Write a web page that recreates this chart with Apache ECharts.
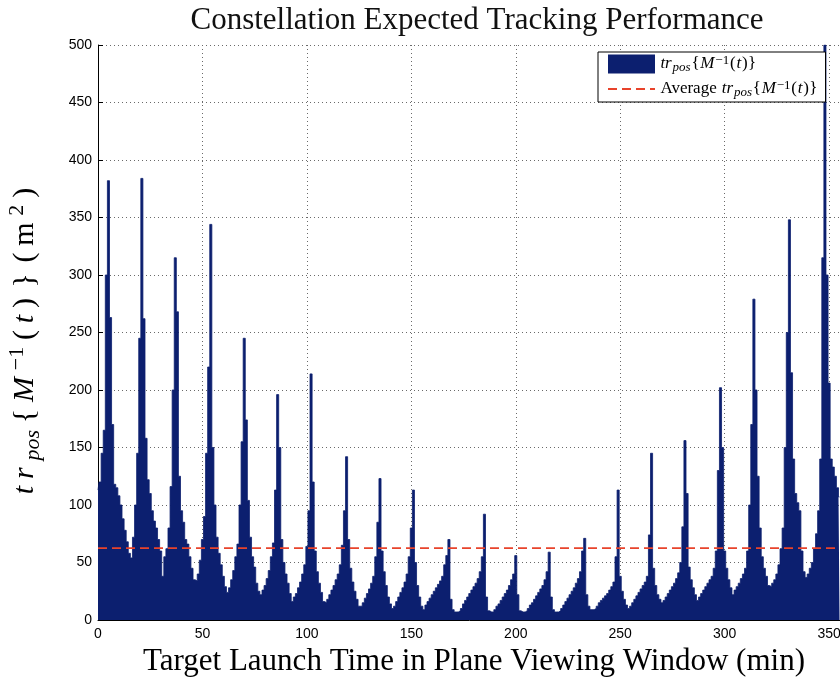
<!DOCTYPE html>
<html>
<head>
<meta charset="utf-8">
<title>Constellation Expected Tracking Performance</title>
<script src="https://cdn.jsdelivr.net/npm/echarts@6/dist/echarts.min.js"></script>
<style>
  html, body { margin: 0; padding: 0; background: #ffffff; }
  #chart { width: 840px; height: 677px; }
</style>
</head>
<body>
<div id="chart"></div>
<script>
// Trace of the position covariance, one sample per minute of launch time (0 .. 355 min)
const trPos = [
  113, 120, 145, 165, 300, 382, 263, 170, 118, 115, 108, 100, 88, 78, 68, 58, 54,
  72, 100, 145, 245, 384, 262, 158, 122, 110, 95, 86, 80, 70, 60, 38,
  55, 62, 80, 116, 200, 315, 268, 125, 95, 85, 70, 66, 55, 45, 35,
  34, 40, 52, 70, 90, 145, 220, 344, 150, 100, 72, 58, 48, 38, 29, 24,
  28, 35, 43, 55, 66, 100, 155, 245, 174, 104, 72, 55, 46, 32, 25, 22,
  26, 30, 36, 43, 55, 67, 113, 196, 150, 70, 50, 40, 32, 23, 16,
  20, 23, 28, 33, 40, 48, 64, 95, 214, 120, 60, 42, 32, 24, 16,
  15, 18, 22, 26, 30, 35, 40, 48, 65, 95, 142, 70, 45, 33, 25, 18, 12,
  12, 15, 19, 23, 27, 32, 38, 55, 85, 123, 60, 42, 30, 20, 14, 10,
  12, 16, 20, 24, 28, 33, 40, 55, 80, 113, 50, 30, 20, 12, 9,
  13, 16, 19, 22, 25, 28, 31, 34, 38, 48, 56, 70, 18, 9, 7, 7, 8,
  10, 14, 17, 20, 23, 26, 29, 32, 36, 42, 55, 92, 20, 8, 7, 7,
  9, 12, 14, 17, 20, 23, 26, 30, 35, 40, 56, 22, 8, 7, 7, 8,
  10, 13, 15, 18, 21, 24, 27, 30, 35, 42, 59, 20, 9, 7, 7, 8,
  10, 13, 16, 19, 22, 25, 28, 32, 36, 42, 60, 71, 22, 12, 9, 9, 10,
  12, 15, 17, 19, 21, 23, 26, 29, 33, 55, 113, 38, 25, 18, 13, 10,
  12, 15, 18, 21, 24, 27, 30, 33, 38, 74, 145, 45, 30, 22, 18, 15,
  17, 20, 23, 26, 29, 32, 36, 41, 50, 81, 156, 110, 46, 35, 28, 22, 17,
  20, 23, 26, 29, 32, 35, 38, 45, 60, 130, 202, 150, 60, 45, 35, 28, 22,
  26, 29, 32, 36, 40, 45, 60, 100, 170, 279, 200, 125, 80, 55, 45, 38, 30, 29,
  32, 35, 40, 48, 62, 80, 150, 250, 348, 215, 140, 110, 102, 95, 60, 42, 37,
  40, 45, 50, 62, 75, 95, 140, 315, 500, 300, 206, 140, 133, 125, 115, 107
];
const startMinute = 0;      // launch time of the first sample (min)
const stepMinutes = 1;      // sampling step (min)
const averageTrPos = [62.5];          // mean of the trace over the window
const averageSpan = [0, 353];         // extent of the average line (min)
const xTicks = [0, 50, 100, 150, 200, 250, 300, 350];
const yTicks = [0, 50, 100, 150, 200, 250, 300, 350, 400, 450, 500];

const SERIF = '"Liberation Serif", "DejaVu Serif", serif';
const SANS = '"Liberation Sans", Arial, Helvetica, sans-serif';
const NAVY = '#0c1f6f';
const AVG_RED = '#e8432b';

const tracePoints = trPos.map((v, i) => [startMinute + i * stepMinutes, v]);
const averagePoints = averageSpan.map(x => [x, averageTrPos[0]]);

// math-like label pieces for rich text
function mathRich(size, small, lh, gap) {
  const base = { fontFamily: SERIF, color: '#000', padding: [0, gap, 0, gap] };
  return {
    it:  Object.assign({}, base, { fontStyle: 'italic', fontSize: size, lineHeight: lh }),
    rm:  Object.assign({}, base, { fontSize: size, lineHeight: lh }),
    sub: Object.assign({}, base, { fontStyle: 'italic', fontSize: small, lineHeight: Math.round(lh * 0.62), verticalAlign: 'bottom' }),
    sup: Object.assign({}, base, { fontSize: small, lineHeight: Math.round(lh * 0.62), verticalAlign: 'top' })
  };
}
const trPosTex = '{it|tr}{sub|pos}{rm|{}{it|M}{sup|−1}{rm|(}{it|t}{rm|)}}';

const chart = echarts.init(document.getElementById('chart'), null, { renderer: 'canvas' });

chart.setOption({
  animation: false,
  backgroundColor: '#ffffff',
  title: {
    text: 'Constellation Expected Tracking Performance',
    left: 472,
    top: 0,
    textAlign: 'center',
    textStyle: { fontFamily: SERIF, fontWeight: 'normal', fontSize: 31, color: '#111' }
  },
  grid: { left: 98, width: 752, top: 45, bottom: 57, containLabel: false, outerBoundsMode: 'none' },
  legend: {
    orient: 'vertical',
    left: 598,
    top: 52,
    padding: [2, 8, 3, 9],
    itemGap: 5,
    itemWidth: 47,
    itemHeight: 19,
    backgroundColor: '#ffffff',
    borderColor: '#000',
    borderWidth: 1,
    borderRadius: 0,
    textStyle: { fontFamily: SERIF, fontSize: 17, color: '#000', rich: mathRich(17, 13, 20, 0.4) },
    data: [
      { name: 'trace', icon: 'rect', itemStyle: { color: NAVY } },
      { name: 'average', itemStyle: { opacity: 0 } }
    ],
    formatter: function (name) {
      return name === 'trace' ? trPosTex : '{rm|Average }' + trPosTex;
    }
  },
  xAxis: {
    type: 'value',
    min: 0,
    max: 360,
    interval: 50,
    name: 'Target Launch Time in Plane Viewing Window (min)',
    nameLocation: 'middle',
    nameGap: 24,
    nameTextStyle: { fontFamily: SERIF, fontSize: 31, color: '#000', verticalAlign: 'top' },
    axisLine: { show: true, onZero: false, lineStyle: { color: '#000', width: 1 } },
    axisTick: { show: true, inside: true, length: 5, lineStyle: { color: '#000' } },
    axisLabel: {
      fontFamily: SANS, fontSize: 14, color: '#000', margin: 7,
      formatter: v => (xTicks.indexOf(v) >= 0 ? String(v) : '')
    },
    splitLine: { show: true, lineStyle: { color: '#6a6a6a', type: [1, 3], width: 1 } }
  },
  yAxis: {
    type: 'value',
    min: 0,
    max: 500,
    interval: 50,
    name: '{it|t}{it|r}{sub|pos}{rm|{}{it|M}{sup|−1}{rm|(}{it|t}{rm|)}{rm|}} {rm|(}{rm|m}{sup|2}{rm|)}',
    nameLocation: 'middle',
    nameGap: 54,
    nameRotate: 90,
    nameTextStyle: {
      fontFamily: SERIF, fontSize: 30, lineHeight: 38, color: '#000',
      padding: [0, 17, 0, 0],
      rich: mathRich(30, 22, 38, 3.4)
    },
    axisLine: { show: true, onZero: false, lineStyle: { color: '#000', width: 1 } },
    axisTick: { show: true, inside: true, length: 5, lineStyle: { color: '#000' } },
    axisLabel: {
      fontFamily: SANS, fontSize: 14, color: '#000', margin: 6,
      formatter: v => (yTicks.indexOf(v) >= 0 ? String(v) : '')
    },
    splitLine: { show: true, lineStyle: { color: '#6a6a6a', type: [1, 3], width: 1 } }
  },
  series: [
    {
      name: 'trace',
      type: 'line',
      step: 'middle',
      data: tracePoints,
      symbol: 'none',
      color: NAVY,
      lineStyle: { color: NAVY, width: 0.8 },
      areaStyle: { color: NAVY, opacity: 1 },
      clip: true,
      z: 2
    },
    {
      name: 'average',
      type: 'line',
      data: averagePoints,
      symbol: 'none',
      color: AVG_RED,
      lineStyle: { color: AVG_RED, width: 1.6, type: [9, 5] },
      z: 3
    }
  ]
});
</script>
</body>
</html>
